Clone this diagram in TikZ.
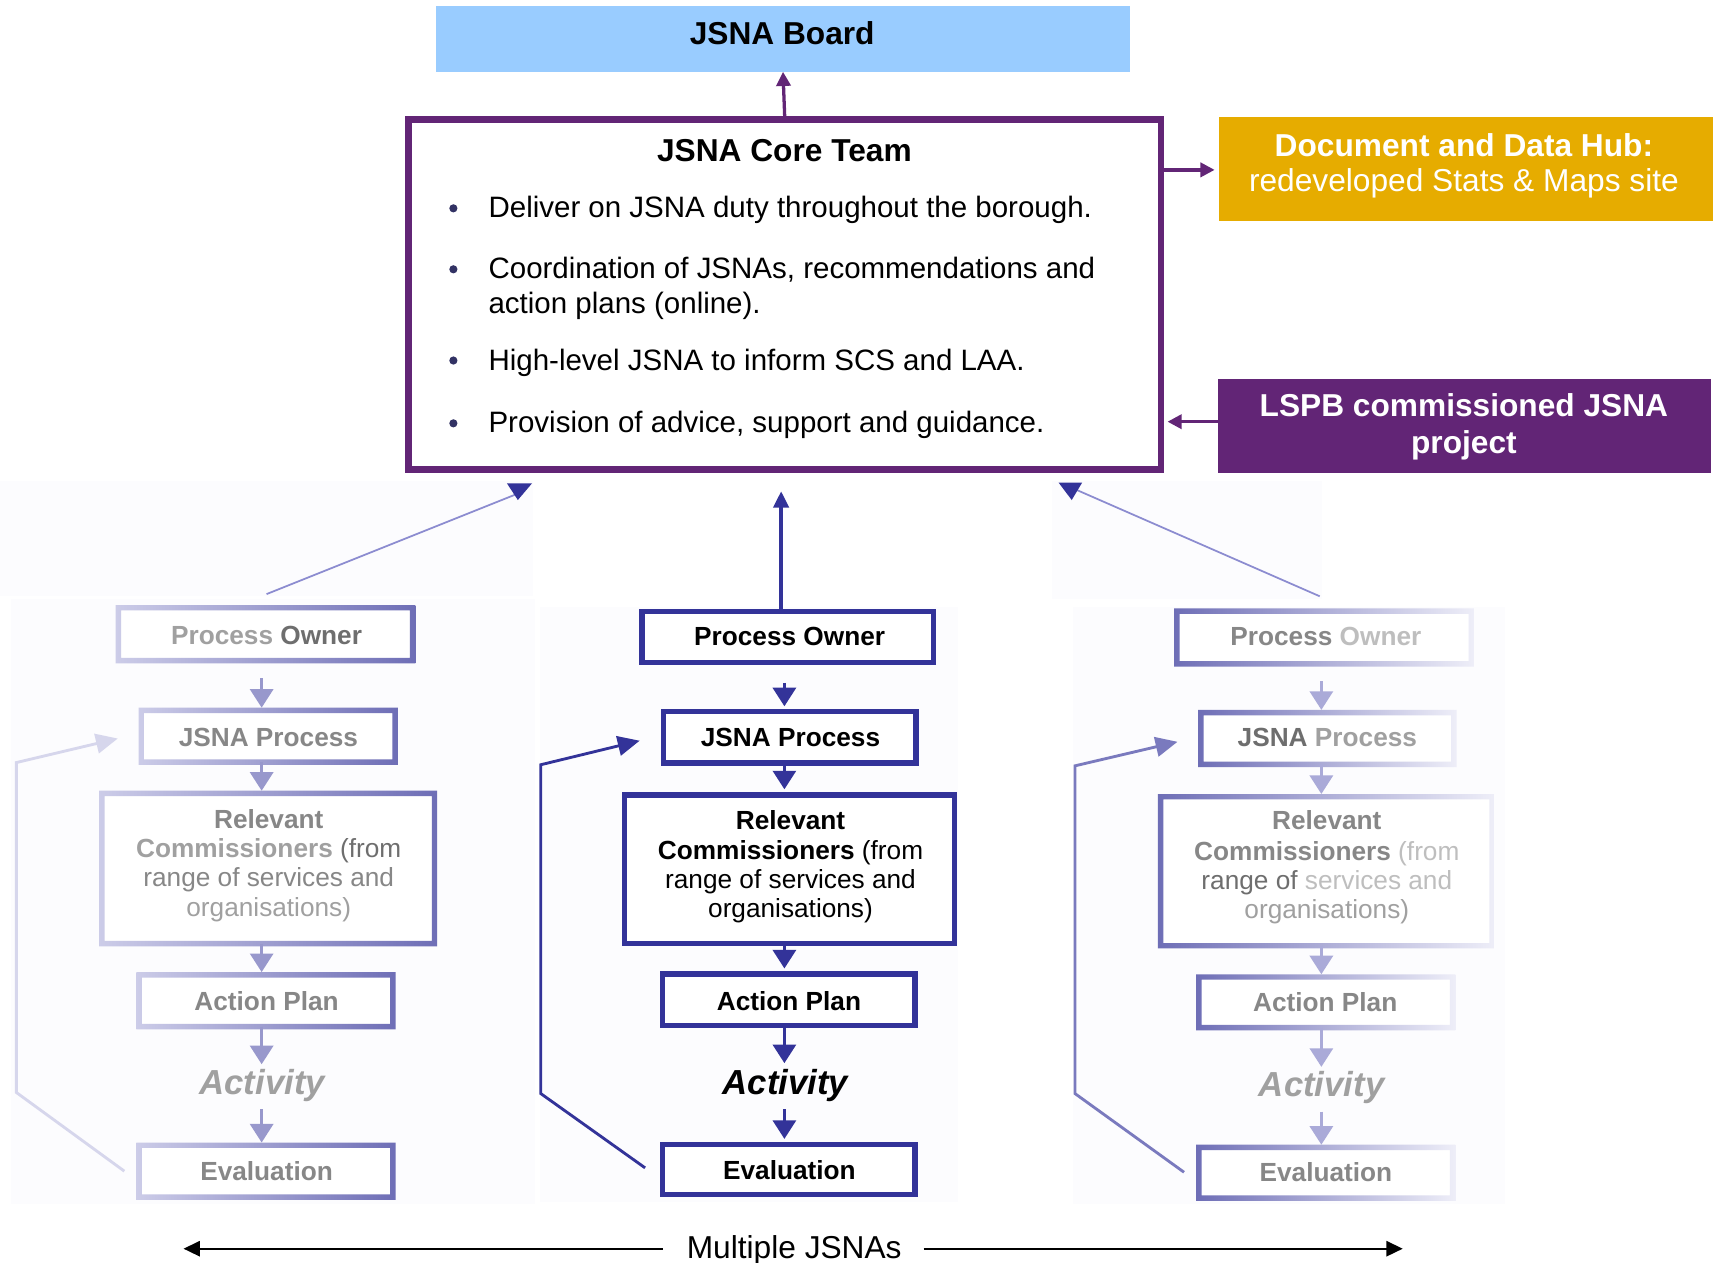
\documentclass[tikz,border=0pt]{standalone}
\usepackage{fontspec}
\setmainfont{Liberation Sans}
\usetikzlibrary{arrows.meta}
\definecolor{jblue}{RGB}{51,51,153}
\definecolor{jpurple}{RGB}{98,37,118}
\definecolor{jgold}{RGB}{230,172,0}
\definecolor{jsky}{RGB}{153,204,255}
\definecolor{jdot}{RGB}{50,50,100}
\definecolor{panel}{RGB}{252,252,254}
\definecolor{lavdark}{RGB}{110,110,182}
\definecolor{lavlight}{RGB}{204,204,232}
\definecolor{lavpale}{RGB}{238,238,248}
\definecolor{larrow}{RGB}{152,152,204}
\definecolor{rarrow}{RGB}{170,170,216}
\definecolor{lloop}{RGB}{214,214,236}
\definecolor{rloop}{RGB}{122,122,190}
\definecolor{diag}{RGB}{140,140,208}
\definecolor{gA}{RGB}{110,110,110}
\definecolor{gB}{RGB}{135,135,135}
\definecolor{gC}{RGB}{160,160,160}
\definecolor{gD}{RGB}{190,190,190}
\newcommand\fadeframe[3]{%
  \shade[left color=#2,right color=#3,even odd rule]
   ([shift={(-2.5pt,2.5pt)}]#1.north west) rectangle ([shift={(2.5pt,-2.5pt)}]#1.south east)
   ([shift={(2.5pt,-2.5pt)}]#1.north west) rectangle ([shift={(-2.5pt,2.5pt)}]#1.south east);}
\tikzset{
  mbox/.style={draw=jblue, line width=5pt, fill=white, inner sep=0pt},
  fbox/.style={fill=white, inner sep=0pt},
  btxt/.style={anchor=base, inner sep=0pt, font=\bfseries\fontsize{24}{27}\selectfont},
  rtxt/.style={anchor=base, inner sep=0pt, font=\fontsize{24}{27}\selectfont},
  acttxt/.style={anchor=base, inner sep=0pt, font=\bfseries\itshape\fontsize{31.8}{36}\selectfont},
  bigb/.style={anchor=base, inner sep=0pt, font=\bfseries\fontsize{29}{34}\selectfont},
  bigr/.style={anchor=base, inner sep=0pt, font=\fontsize{29}{34}\selectfont},
  bult/.style={anchor=base west, inner sep=0pt, font=\fontsize{27}{31}\selectfont},
  bdot/.style={circle, fill=jdot, minimum size=7.5pt, inner sep=0pt},
  parr/.style={draw=jpurple, line width=3pt, -{Triangle[width=13pt,length=13pt]}},
  varr/.style={line width=3pt, -{Triangle[width=21pt,length=17pt]}},
  looparr/.style={line width=2.6pt, -{Triangle[width=18pt,length=20pt]}},
}
\begin{document}
\begin{tikzpicture}[x=1pt,y=-1pt]
\useasboundingbox (0,0) rectangle (1568,1156);
\fill[white] (0,0) rectangle (1568,1156);
% faint panels
\fill[panel] (0,440) rectangle (488,546);
\fill[panel] (963,440) rectangle (1210,548);
\fill[panel] (10,548) rectangle (490,1102);
\fill[panel] (494,556) rectangle (877,1100);
\fill[panel] (982,556) rectangle (1378,1102);

% top
\node[fill=jsky, minimum width=635.4pt, minimum height=60pt, inner sep=0pt] (board) at (716.7,35.5) {};
\node[bigb] (boardt) at (716,41) {JSNA Board};
\node[draw=jpurple, line width=6pt, fill=white, minimum width=688.9pt, minimum height=320.5pt, inner sep=0pt] (core) at (718.25,269.45) {};
\node[bigb] (coret) at (718,148) {JSNA Core Team};
\node[bdot] (d1) at (415,190.7) {};
\node[bdot] (d2) at (415,246.5) {};
\node[bdot] (d3) at (415,330) {};
\node[bdot] (d4) at (415,387.5) {};
\node[bult] (t1) at (447,199) {Deliver on JSNA duty throughout the borough.};
\node[bult] (t2a) at (447,255) {Coordination of JSNAs, recommendations and};
\node[bult] (t2b) at (447,287) {action plans (online).};
\node[bult] (t3) at (447,339) {High-level JSNA to inform SCS and LAA.};
\node[bult] (t4) at (447,396) {Provision of advice, support and guidance.};

\node[fill=jgold, minimum width=452pt, minimum height=95pt, inner sep=0pt] (hub) at (1342,154.5) {};
\node[bigb, text=white] (hubt1) at (1340,143.4) {Document and Data Hub:};
\node[bigr, text=white] (hubt2) at (1340,175.5) {redeveloped Stats \& Maps site};
\node[fill=jpurple, minimum width=451pt, minimum height=86pt, inner sep=0pt] (lspb) at (1340.5,390) {};
\node[bigb, text=white] (lspbt1) at (1340,381.4) {LSPB commissioned JSNA};
\node[bigb, text=white] (lspbt2) at (1340,415) {project};

\draw[parr] (core.north) -- (board.south);
\coordinate (hy) at (0,155.5);
\coordinate (ly) at (0,386);
\draw[parr, shorten >=4pt] (core.east |- hy) -- (hub.west |- hy);
\draw[parr, shorten >=3pt] (lspb.west |- ly) -- (core.east |- ly);

% ---------------- middle column
\node[mbox, minimum width=267pt, minimum height=47pt] (mpo) at (721,583) {};
\node[mbox, minimum width=231pt, minimum height=47pt] (mjp) at (723,675) {};
\node[mbox, minimum width=302pt, minimum height=136pt] (mrc) at (722.5,795.5) {};
\node[mbox, minimum width=231pt, minimum height=47pt] (map) at (722,915) {};
\node[mbox, minimum width=231pt, minimum height=46pt] (meval) at (722,1070.5) {};
\node[btxt] (mpot) at (722.8,591.3) {Process Owner};
\node[btxt] (mjpt) at (723.6,683.4) {JSNA Process};
\node[btxt] (mrc1) at (723.6,759.7) {Relevant};
\node[rtxt] (mrc2) at (723.6,786.6) {\bfseries Commissioners\mdseries{} (from};
\node[rtxt] (mrc3) at (723.6,813.1) {range of services and};
\node[rtxt] (mrc4) at (723.6,840) {organisations)};
\node[btxt] (mapt) at (722.2,924.5) {Action Plan};
\node[acttxt] (mact) at (719,1001.4) {Activity};
\node[btxt] (mevt) at (722.6,1079.5) {Evaluation};
\coordinate (mx) at (718,0);
\coordinate (mux) at (715,0);
\draw[varr, jblue, shorten <=16pt, shorten >=2.5pt] (mpo.south -| mx) -- (mjp.north -| mx);
\draw[varr, jblue, shorten >=2.5pt] (mjp.south -| mx) -- (mrc.north -| mx);
\draw[varr, jblue, shorten >=2.5pt] (mrc.south -| mx) -- (map.north -| mx);
\draw[varr, jblue, shorten >=5pt] (map.south -| mx) -- (mact.north -| mx);
\draw[varr, jblue, shorten <=7pt, shorten >=2.5pt] (mact.south -| mx) -- (meval.north -| mx);
\draw[jblue, line width=3pt, -{Triangle[width=14pt,length=15pt]}, shorten >=17pt] (mpo.north -| mux) -- (core.south -| mux);
\coordinate (mb1) at (495,1001);
\coordinate (mb2) at (495,700);
\draw[looparr, jblue] ([xshift=-13.5pt,yshift=1.5pt]meval.west) -- (mb1) -- (mb2) -- ([xshift=-19.5pt,yshift=-3pt]mjp.west);

% ---------------- left column (faded)
\node[fbox, minimum width=269pt, minimum height=48pt] (lpo) at (243,580.5) {};
\node[fbox, minimum width=232pt, minimum height=47pt] (ljp) at (245.5,674) {};
\node[fbox, minimum width=304pt, minimum height=137pt] (lrc) at (245.5,795) {};
\node[fbox, minimum width=232pt, minimum height=47pt] (lap) at (243.5,916) {};
\node[fbox, minimum width=232pt, minimum height=47pt] (leval) at (243.5,1072) {};
\fadeframe{lpo}{lavlight}{lavdark}
\fadeframe{ljp}{lavlight}{lavdark}
\fadeframe{lrc}{lavlight}{lavdark}
\fadeframe{lap}{lavlight}{lavdark}
\fadeframe{leval}{lavlight}{lavdark}
\node[btxt] (lpot) at (244,589.5) {\textcolor{gC}{Process} \textcolor{gA}{Owner}};
\node[btxt, text=gB] (ljpt) at (245.7,682.9) {JSNA Process};
\node[btxt, text=gB] (lrc1) at (246,758.2) {Relevant};
\node[rtxt] (lrc2) at (246,784.7) {\textcolor{gC}{\bfseries Commissioners} \textcolor{gA}{(from}};
\node[rtxt, text=gB] (lrc3) at (246,811.6) {range of services and};
\node[rtxt, text=gC] (lrc4) at (246,839) {organisations)};
\node[btxt, text=gB] (lapt) at (244,925) {Action Plan};
\node[acttxt, text=gC] (lact) at (240,1001.4) {Activity};
\node[btxt, text=gB] (levt) at (244,1080.7) {Evaluation};
\coordinate (lx) at (239.5,0);
\draw[varr, larrow, shorten <=16pt, shorten >=2.5pt] (lpo.south -| lx) -- (ljp.north -| lx);
\draw[varr, larrow, shorten >=2.5pt] (ljp.south -| lx) -- (lrc.north -| lx);
\draw[varr, larrow, shorten >=2.5pt] (lrc.south -| lx) -- (lap.north -| lx);
\draw[varr, larrow, shorten >=4pt] (lap.south -| lx) -- (lact.north -| lx);
\draw[varr, larrow, shorten <=7pt, shorten >=2.5pt] (lact.south -| lx) -- (leval.north -| lx);
\coordinate (lb1) at (15,1000);
\coordinate (lb2) at (15,698);
\draw[looparr, lloop] ([xshift=-13.5pt]leval.west) -- (lb1) -- (lb2) -- ([xshift=-21.5pt,yshift=-2pt]ljp.west);
\coordinate (lend) at (471,453);
\draw[diag, line width=1.6pt] ([xshift=1pt,yshift=12.5pt]lpo.north) -- (lend);
\fill[jblue] (464,442.4) -- (487,442.4) -- (474,457.7) -- cycle;

% ---------------- right column (faded)
\node[fbox, minimum width=269pt, minimum height=48pt] (rpo) at (1212,583.5) {};
\node[fbox, minimum width=231pt, minimum height=47pt] (rjp) at (1215,676) {};
\node[fbox, minimum width=303pt, minimum height=136pt] (rrc) at (1214,797.5) {};
\node[fbox, minimum width=232pt, minimum height=46pt] (rap) at (1213.5,917.5) {};
\node[fbox, minimum width=232pt, minimum height=46pt] (reval) at (1213.5,1073.5) {};
\fadeframe{rpo}{lavdark}{lavpale}
\fadeframe{rjp}{lavdark}{lavpale}
\fadeframe{rrc}{lavdark}{lavpale}
\fadeframe{rap}{lavdark}{lavpale}
\fadeframe{reval}{lavdark}{lavpale}
\node[btxt] (rpot) at (1213.6,590.4) {\textcolor{gB}{Process} \textcolor{gD}{Owner}};
\node[btxt] (rjpt) at (1215,683.4) {\textcolor{gA}{JSNA} \textcolor{gC}{Process}};
\node[btxt, text=gB] (rrc1) at (1214.5,759.7) {Relevant};
\node[rtxt] (rrc2) at (1214.5,787.2) {\textcolor{gB}{\bfseries Commissioners} \textcolor{gD}{(from}};
\node[rtxt] (rrc3) at (1214.5,814) {\textcolor{gA}{range of} \textcolor{gD}{services and}};
\node[rtxt, text=gC] (rrc4) at (1214.5,840.6) {organisations)};
\node[btxt, text=gB] (rapt) at (1213,926) {Action Plan};
\node[acttxt, text=gC] (ract) at (1209.8,1003.8) {Activity};
\node[btxt, text=gB] (revt) at (1213.7,1081.6) {Evaluation};
\coordinate (rx) at (1209.5,0);
\draw[varr, rarrow, shorten <=16pt, shorten >=2.5pt] (rpo.south -| rx) -- (rjp.north -| rx);
\draw[varr, rarrow, shorten >=2.5pt] (rjp.south -| rx) -- (rrc.north -| rx);
\draw[varr, rarrow, shorten >=2.5pt] (rrc.south -| rx) -- (rap.north -| rx);
\draw[varr, rarrow, shorten >=4pt] (rap.south -| rx) -- (ract.north -| rx);
\draw[varr, rarrow, shorten <=7pt, shorten >=2.5pt] (ract.south -| rx) -- (reval.north -| rx);
\coordinate (rb1) at (984,1001);
\coordinate (rb2) at (984,701);
\draw[looparr, rloop] ([xshift=-13.5pt,yshift=0.5pt]reval.west) -- (rb1) -- (rb2) -- ([xshift=-21.5pt,yshift=-3pt]rjp.west);
\coordinate (rend) at (985.6,448.5);
\draw[diag, line width=1.6pt] ([xshift=-4pt,yshift=13.5pt]rpo.north) -- (rend);
\fill[jblue] (969,441.8) -- (990.5,441.8) -- (981,457.7) -- cycle;

% ---------------- bottom
\node[bigr] (multi) at (727,1151.5) {Multiple JSNAs};
\coordinate (la) at (168,1143);
\coordinate (ra) at (1284,1143);
\draw[line width=1.8pt, -{Triangle[width=14pt,length=15pt]}, shorten <=22pt] (multi.west |- la) -- (la);
\draw[line width=1.8pt, -{Triangle[width=14pt,length=15pt]}, shorten <=20pt] (multi.east |- ra) -- (ra);
\end{tikzpicture}
\end{document}
